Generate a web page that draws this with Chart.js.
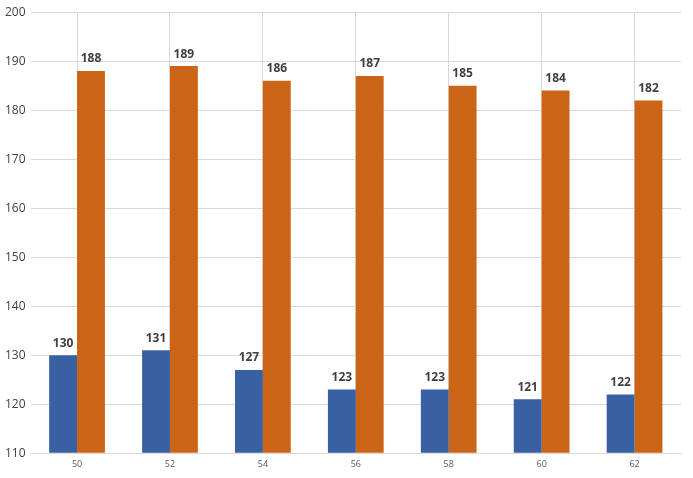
<!DOCTYPE html>
<html><head><meta charset="utf-8">
<script src="https://cdn.jsdelivr.net/npm/chart.js@4"></script>
<style>html,body{margin:0;padding:0;background:#fff}#w{width:693px;height:478px}</style>
</head><body><div id="w"><canvas id="c"></canvas></div>
<script>
const categories = ['50','52','54','56','58','60','62'];
const seriesA = [130,131,127,123,123,121,122];
const seriesB = [188,189,186,187,185,184,182];
const yTicks = [110,120,130,140,150,160,170,180,190,200];

const labelPlugin = {
  id:'lbl',
  afterDatasetsDraw(chart){
    const ctx = chart.ctx;
    ctx.save();
    ctx.font = 'bold 12px "Open Sans"';
    ctx.fillStyle = '#404040';
    ctx.textAlign = 'center';
    ctx.textBaseline = 'bottom';
    chart.data.datasets.forEach((ds,i)=>{
      chart.getDatasetMeta(i).data.forEach((b,j)=>{
        ctx.fillText(ds.data[j], b.x, b.y-6);
      });
    });
    ctx.restore();
  }
};

new Chart(document.getElementById('c'),{
  type:'bar',
  data:{labels:categories,datasets:[
    {data:seriesA,backgroundColor:'#3a60a4',base:110},
    {data:seriesB,backgroundColor:'#cc6418',base:110}
  ]},
  options:{
    responsive:true,maintainAspectRatio:false,animation:false,
    layout:{padding:{left:0,right:12,top:4,bottom:2}},
    plugins:{legend:{display:false},tooltip:{enabled:false}},
    datasets:{bar:{categoryPercentage:0.6,barPercentage:1}},
    scales:{
      x:{grid:{offset:false,color:'#d9d9d9',drawTicks:false},border:{color:'#d9d9d9'},
         ticks:{color:'#595959',font:{size:9,family:'"Open Sans"'},padding:6}},
      y:{min:110,max:200,afterBuildTicks(a){a.ticks=yTicks.map(v=>({value:v}));},
         grid:{color:'#d9d9d9',drawTicks:false},border:{display:false},
         ticks:{color:'#404040',font:{size:12,family:'"Open Sans"'},padding:5}}
    }
  },
  plugins:[labelPlugin]
});
</script></body></html>
